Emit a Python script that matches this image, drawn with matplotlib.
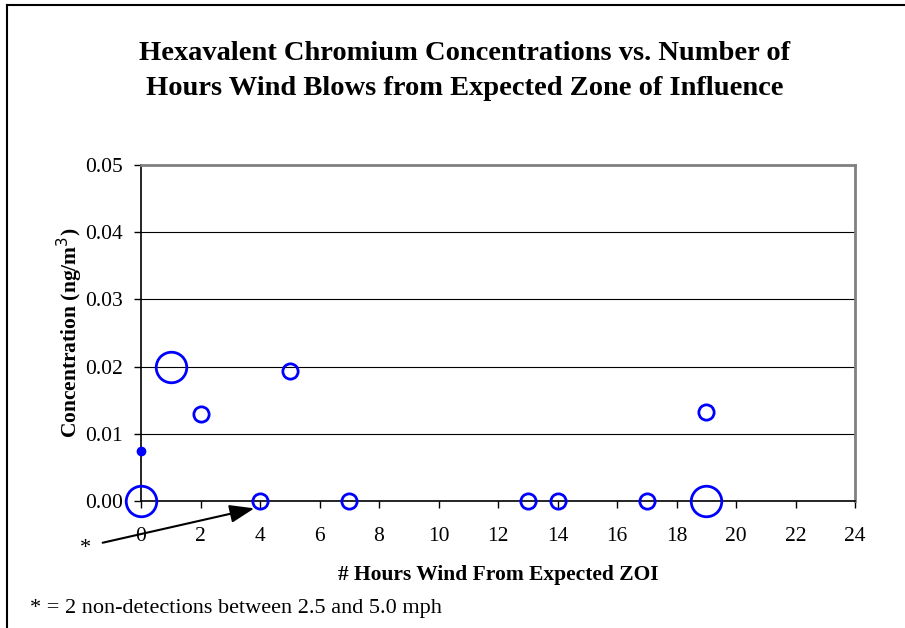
import matplotlib.pyplot as plt
import numpy as np

# hours wind from expected ZOI vs concentration
small_hours = [2, 4, 5, 7, 13, 14, 17, 19]
small_conc = [0.0129, 0.0, 0.0194, 0.0, 0.0, 0.0, 0.0, 0.0132]
large_hours = [0, 1, 19]
large_conc = [0.0, 0.0199, 0.0]
dot_hours = [0]
dot_conc = [0.0074]

x_ticks = list(range(0, 26, 2))
y_ticks = [0.0, 0.01, 0.02, 0.03, 0.04, 0.05]

plt.rcParams['font.family'] = ['Liberation Serif', 'DejaVu Serif']

fig = plt.figure(figsize=(9.05, 6.28), dpi=100)
ax = fig.add_axes([0.1558, 0.2022, 0.789, 0.535])

blue = '#0000ff'
ax.plot(small_hours, small_conc, 'o', ms=11, mfc='none', mec=blue, mew=2, clip_on=False, zorder=5)
ax.plot(large_hours, large_conc, 'o', ms=22, mfc='none', mec=blue, mew=2, clip_on=False, zorder=5)
ax.plot(dot_hours, dot_conc, 'o', ms=6, color=blue, clip_on=False, zorder=5)

ax.set_xlim(0, 24)
ax.set_ylim(0, 0.05)
ax.set_xticks(x_ticks)
ax.set_yticks(y_ticks)
ax.set_yticklabels([f'{v:.2f}' for v in y_ticks])
ax.tick_params(labelsize=15.5, length=5, direction='out', width=1)
ax.tick_params(axis='x', pad=14)
ax.tick_params(axis='y', pad=8)
ax.yaxis.grid(True, color='black', lw=0.8)
ax.set_axisbelow(True)

for s in ['left', 'bottom']:
    ax.spines[s].set_color('black')
    ax.spines[s].set_linewidth(1.2)
for s in ['top', 'right']:
    ax.spines[s].set_color('#808080')
    ax.spines[s].set_linewidth(2)

ax.set_xlabel('# Hours Wind From Expected ZOI', fontsize=15.5, fontweight='bold', va='center')
ax.set_ylabel('Concentration (ng/m$^3$)', fontsize=15.5, fontweight='bold', va='center')
ax.xaxis.set_label_coords(0.5, -0.22)
ax.yaxis.set_label_coords(-0.1, 0.5)

fig.text(0.513, 0.887, 'Hexavalent Chromium Concentrations vs. Number of\nHours Wind Blows from Expected Zone of Influence',
         ha='center', va='center', fontsize=20.5, fontweight='bold', linespacing=1.55)

# arrow pointing to the point at 4
ax.annotate('', xy=(3.9, -0.001), xytext=(-1.38, -0.0063),
            xycoords='data', textcoords='data', annotation_clip=False,
            arrowprops=dict(arrowstyle='-|>,head_length=1.5,head_width=0.55', color='black', lw=1.5))
fig.text(0.094, 0.126, '*', fontsize=16, ha='center', va='center')

fig.text(0.033, 0.031, '* = 2 non-detections between 2.5 and 5.0 mph', fontsize=16, ha='left', va='center')

# outer frame (top and left edges)
fig.add_artist(plt.Line2D([0.008, 1.0], [0.992, 0.992], color='black', lw=1.5, transform=fig.transFigure))
fig.add_artist(plt.Line2D([0.008, 0.008], [0.0, 0.992], color='black', lw=1.5, transform=fig.transFigure))

fig.savefig('out.png', dpi=100)
